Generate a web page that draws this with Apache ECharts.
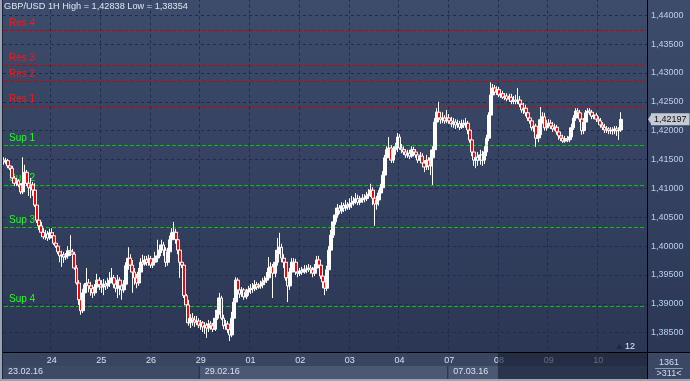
<!DOCTYPE html>
<html><head><meta charset="utf-8">
<script src="https://cdn.jsdelivr.net/npm/echarts@6/dist/echarts.min.js"></script>
<style>html,body{margin:0;padding:0;background:#2f3b58;}#c{width:690px;height:381px;}</style>
</head><body><div id="c"></div>
<script>
const symbolName = 'GBP/USD';
const timeframe = '1H';
const dayNames = ['23.02.16','24.02.16','25.02.16','26.02.16','29.02.16','01.03.16','02.03.16','03.03.16','04.03.16','07.03.16','08.03.16','09.03.16','10.03.16'];
const firstHour = 1;
const weekLabels = ['23.02.16','29.02.16','07.03.16'];
const shadeFromDay = '08.03.16';
const totalBars = '1361';
const visibleBarsText = '>311<';
const shiftText = '12';
const yMin = 1.38, yMax = 1.445, yStep = 0.005;
const resNames = ['Res 4','Res 3','Res 2','Res 1'];
const resValues = [1.43736,1.43130,1.42853,1.42419];
const supNames = ['Sup 1','Sup 2','Sup 3','Sup 4'];
const supValues = [1.41743,1.41050,1.40322,1.38953];

const opens = [1.4149,1.4146,1.4148,1.4139,1.4135,1.4118,1.4109,1.4113,1.4106,1.4094,
1.4109,1.4128,1.4109,1.4101,1.4106,1.4097,1.4071,1.4045,1.4035,1.4024,
1.4016,1.4021,1.4014,1.4023,1.4018,1.4005,1.4000,1.3990,1.3983,1.3985,
1.3981,1.3983,1.3992,1.3990,1.3986,1.3962,1.3936,1.3907,1.3888,1.3919,
1.3933,1.3936,1.3931,1.3926,1.3919,1.3929,1.3941,1.3933,1.3929,1.3934,
1.3931,1.3936,1.3941,1.3945,1.3934,1.3927,1.3941,1.3931,1.3924,1.3934,
1.3966,1.3979,1.3967,1.3955,1.3945,1.3936,1.3955,1.3972,1.3969,1.3976,
1.3972,1.3978,1.3967,1.3972,1.3979,1.3983,1.3993,1.4002,1.3993,1.3972,
1.3990,1.4011,1.4023,1.4024,1.4011,1.3993,1.3972,1.3967,1.3914,1.3898,
1.3867,1.3875,1.3872,1.3868,1.3870,1.3863,1.3867,1.3860,1.3863,1.3858,
1.3865,1.3862,1.3856,1.3875,1.3889,1.3910,1.3875,1.3862,1.3865,1.3855,
1.3846,1.3875,1.3903,1.3941,1.3924,1.3917,1.3924,1.3912,1.3920,1.3924,
1.3927,1.3926,1.3933,1.3929,1.3931,1.3933,1.3938,1.3941,1.3945,1.3962,
1.3964,1.3953,1.3972,1.3993,1.3998,1.3979,1.3972,1.3945,1.3931,1.3955,
1.3972,1.3972,1.3955,1.3953,1.3957,1.3955,1.3960,1.3959,1.3962,1.3959,
1.3953,1.3962,1.3976,1.3967,1.3948,1.3938,1.3927,1.3959,1.3993,1.4019,
1.4042,1.4054,1.4066,1.4061,1.4070,1.4066,1.4071,1.4068,1.4073,1.4075,
1.4078,1.4082,1.4076,1.4080,1.4083,1.4082,1.4087,1.4090,1.4097,1.4083,
1.4073,1.4080,1.4092,1.4101,1.4123,1.4153,1.4167,1.4170,1.4149,1.4167,
1.4172,1.4189,1.4170,1.4167,1.4163,1.4158,1.4161,1.4156,1.4167,1.4163,
1.4158,1.4149,1.4156,1.4144,1.4137,1.4149,1.4139,1.4153,1.4167,1.4215,
1.4232,1.4222,1.4219,1.4222,1.4217,1.4222,1.4217,1.4212,1.4215,1.4210,
1.4212,1.4206,1.4212,1.4210,1.4213,1.4201,1.4184,1.4163,1.4149,1.4154,
1.4149,1.4158,1.4149,1.4163,1.4187,1.4227,1.4262,1.4274,1.4267,1.4271,
1.4262,1.4264,1.4258,1.4260,1.4255,1.4258,1.4251,1.4253,1.4251,1.4253,
1.4246,1.4236,1.4239,1.4231,1.4222,1.4217,1.4205,1.4208,1.4187,1.4193,
1.4219,1.4224,1.4205,1.4212,1.4213,1.4208,1.4203,1.4206,1.4198,1.4191,
1.4187,1.4182,1.4186,1.4184,1.4189,1.4205,1.4222,1.4234,1.4231,1.4220,
1.4200,1.4215,1.4231,1.4234,1.4232,1.4225,1.4227,1.4220,1.4217,1.4210,
1.4206,1.4201,1.4203,1.4200,1.4201,1.4200,1.4203,1.4200,1.4201];

const closes = [1.4146,1.4148,1.4139,1.4135,1.4118,1.4109,1.4113,1.4106,1.4094,1.4109,
1.4128,1.4109,1.4101,1.4106,1.4097,1.4071,1.4045,1.4035,1.4024,1.4016,
1.4021,1.4014,1.4023,1.4018,1.4005,1.4000,1.3990,1.3983,1.3985,1.3981,
1.3983,1.3992,1.3990,1.3986,1.3962,1.3936,1.3907,1.3888,1.3919,1.3933,
1.3936,1.3931,1.3926,1.3919,1.3929,1.3941,1.3933,1.3929,1.3934,1.3931,
1.3936,1.3941,1.3945,1.3934,1.3927,1.3941,1.3931,1.3924,1.3934,1.3966,
1.3979,1.3967,1.3955,1.3945,1.3936,1.3955,1.3972,1.3969,1.3976,1.3972,
1.3978,1.3967,1.3972,1.3979,1.3983,1.3993,1.4002,1.3993,1.3972,1.3990,
1.4011,1.4023,1.4024,1.4011,1.3993,1.3972,1.3967,1.3914,1.3898,1.3867,
1.3875,1.3872,1.3868,1.3870,1.3863,1.3867,1.3860,1.3863,1.3858,1.3865,
1.3862,1.3856,1.3875,1.3889,1.3910,1.3875,1.3862,1.3865,1.3855,1.3846,
1.3875,1.3903,1.3941,1.3924,1.3917,1.3924,1.3912,1.3920,1.3924,1.3927,
1.3926,1.3933,1.3929,1.3931,1.3933,1.3938,1.3941,1.3945,1.3962,1.3964,
1.3953,1.3972,1.3993,1.3998,1.3979,1.3972,1.3945,1.3931,1.3955,1.3972,
1.3972,1.3955,1.3953,1.3957,1.3955,1.3960,1.3959,1.3962,1.3959,1.3953,
1.3962,1.3976,1.3967,1.3948,1.3938,1.3927,1.3959,1.3993,1.4019,1.4042,
1.4054,1.4066,1.4061,1.4070,1.4066,1.4071,1.4068,1.4073,1.4075,1.4078,
1.4082,1.4076,1.4080,1.4083,1.4082,1.4087,1.4090,1.4097,1.4083,1.4073,
1.4080,1.4092,1.4101,1.4123,1.4153,1.4167,1.4170,1.4149,1.4167,1.4172,
1.4189,1.4170,1.4167,1.4163,1.4158,1.4161,1.4156,1.4167,1.4163,1.4158,
1.4149,1.4156,1.4144,1.4137,1.4149,1.4139,1.4153,1.4167,1.4215,1.4232,
1.4222,1.4219,1.4222,1.4217,1.4222,1.4217,1.4212,1.4215,1.4210,1.4212,
1.4206,1.4212,1.4210,1.4213,1.4201,1.4184,1.4163,1.4149,1.4154,1.4149,
1.4158,1.4149,1.4163,1.4187,1.4227,1.4262,1.4274,1.4267,1.4271,1.4262,
1.4264,1.4258,1.4260,1.4255,1.4258,1.4251,1.4253,1.4251,1.4253,1.4246,
1.4236,1.4239,1.4231,1.4222,1.4217,1.4205,1.4208,1.4187,1.4193,1.4219,
1.4224,1.4205,1.4212,1.4213,1.4208,1.4203,1.4206,1.4198,1.4191,1.4187,
1.4182,1.4186,1.4184,1.4189,1.4205,1.4222,1.4234,1.4231,1.4220,1.4200,
1.4215,1.4231,1.4234,1.4232,1.4225,1.4227,1.4220,1.4217,1.4210,1.4206,
1.4201,1.4203,1.4200,1.4201,1.4200,1.4203,1.4200,1.4201,1.42197];

const highs = [1.4154,1.4153,1.4151,1.4142,1.4139,1.4122,1.4118,1.4116,1.4109,1.4154,
1.4141,1.4132,1.4115,1.4118,1.4111,1.4109,1.4089,1.4054,1.4042,1.4031,
1.4028,1.4026,1.4030,1.4031,1.4024,1.4011,1.4005,1.3993,1.3992,1.3990,
1.3988,1.4000,1.4019,1.3995,1.3990,1.3967,1.3941,1.3910,1.3926,1.3936,
1.3962,1.3943,1.3938,1.3933,1.3934,1.3952,1.3946,1.3941,1.3943,1.3940,
1.3945,1.3955,1.3962,1.3950,1.3941,1.3950,1.3946,1.3936,1.3941,1.3972,
1.3998,1.3986,1.3976,1.3962,1.3952,1.3962,1.3979,1.3985,1.3983,1.3983,
1.3985,1.3983,1.3979,1.3990,1.4011,1.4002,1.4011,1.4007,1.3998,1.3997,
1.4018,1.4031,1.4042,1.4030,1.4018,1.3998,1.3985,1.3971,1.3917,1.3907,
1.3882,1.3884,1.3879,1.3879,1.3875,1.3872,1.3870,1.3868,1.3867,1.3872,
1.3870,1.3867,1.3884,1.3898,1.3919,1.3914,1.3881,1.3872,1.3870,1.3860,
1.3886,1.3910,1.3946,1.3945,1.3931,1.3929,1.3927,1.3926,1.3931,1.3934,
1.3936,1.3941,1.3938,1.3936,1.3940,1.3945,1.3948,1.3955,1.3981,1.3972,
1.3969,1.3979,1.4014,1.4023,1.4004,1.3986,1.3979,1.3950,1.3962,1.3979,
1.3979,1.3978,1.3966,1.3962,1.3964,1.3967,1.3967,1.3969,1.3967,1.3964,
1.3969,1.3983,1.3983,1.3972,1.3953,1.3945,1.3966,1.4000,1.4028,1.4049,
1.4063,1.4073,1.4071,1.4076,1.4075,1.4080,1.4076,1.4083,1.4087,1.4085,
1.4092,1.4089,1.4087,1.4090,1.4090,1.4094,1.4099,1.4108,1.4102,1.4087,
1.4087,1.4097,1.4108,1.4130,1.4158,1.4173,1.4189,1.4175,1.4172,1.4179,
1.4196,1.4194,1.4177,1.4173,1.4168,1.4167,1.4167,1.4173,1.4172,1.4168,
1.4163,1.4163,1.4161,1.4149,1.4158,1.4154,1.4167,1.4173,1.4222,1.4239,
1.4250,1.4229,1.4232,1.4227,1.4236,1.4229,1.4224,1.4222,1.4220,1.4219,
1.4217,1.4219,1.4219,1.4222,1.4217,1.4206,1.4189,1.4167,1.4160,1.4163,
1.4167,1.4165,1.4173,1.4193,1.4232,1.42838,1.4281,1.4279,1.4277,1.4276,
1.4271,1.4269,1.4265,1.4265,1.4264,1.4264,1.4260,1.4262,1.4274,1.4260,
1.4253,1.4248,1.4245,1.4236,1.4229,1.4222,1.4215,1.4212,1.4201,1.4241,
1.4232,1.4231,1.4219,1.4220,1.4219,1.4215,1.4212,1.4210,1.4203,1.4196,
1.4193,1.4191,1.4191,1.4194,1.4212,1.4227,1.4239,1.4239,1.4236,1.4224,
1.4222,1.4236,1.4239,1.4239,1.4236,1.4232,1.4231,1.4225,1.4222,1.4215,
1.4212,1.4208,1.4206,1.4206,1.4206,1.4208,1.4208,1.4206,1.4232];

const lows = [1.4141,1.4142,1.4135,1.4132,1.4115,1.4104,1.4104,1.4102,1.4090,1.4090,
1.4106,1.4104,1.4087,1.4083,1.4087,1.4068,1.4040,1.4028,1.4021,1.4012,
1.4011,1.4009,1.4011,1.4014,1.4002,1.3997,1.3986,1.3972,1.3964,1.3971,
1.3976,1.3978,1.3983,1.3981,1.3959,1.3933,1.3898,1.3881,1.3884,1.3912,
1.3924,1.3920,1.3914,1.3910,1.3914,1.3922,1.3924,1.3919,1.3915,1.3924,
1.3926,1.3929,1.3936,1.3927,1.3920,1.3910,1.3915,1.3907,1.3919,1.3927,
1.3959,1.3955,1.3919,1.3933,1.3927,1.3931,1.3950,1.3962,1.3966,1.3966,
1.3966,1.3962,1.3962,1.3969,1.3972,1.3979,1.3988,1.3983,1.3964,1.3966,
1.3985,1.4004,1.4014,1.4004,1.3986,1.3945,1.3962,1.3910,1.3889,1.3862,
1.3858,1.3862,1.3860,1.3863,1.3858,1.3855,1.3851,1.3848,1.3841,1.3851,
1.3855,1.3851,1.3853,1.3872,1.3881,1.3872,1.3856,1.3855,1.3849,1.38354,
1.3842,1.3868,1.3898,1.3914,1.3910,1.3912,1.3907,1.3908,1.3914,1.3917,
1.3919,1.3922,1.3924,1.3926,1.3926,1.3927,1.3933,1.3936,1.3941,1.3955,
1.3910,1.3946,1.3966,1.3986,1.3972,1.3962,1.3940,1.3903,1.3924,1.3948,
1.3962,1.3950,1.3946,1.3948,1.3950,1.3952,1.3953,1.3955,1.3952,1.3946,
1.3948,1.3957,1.3962,1.3943,1.3927,1.3915,1.3922,1.3952,1.3986,1.4014,
1.4037,1.4049,1.4056,1.4056,1.4059,1.4061,1.4063,1.4063,1.4066,1.4070,
1.4073,1.4071,1.4071,1.4075,1.4076,1.4078,1.4082,1.4085,1.4071,1.4035,
1.4063,1.4070,1.4085,1.4094,1.4115,1.4146,1.4158,1.4144,1.4144,1.4158,
1.4163,1.4167,1.4161,1.4158,1.4153,1.4153,1.4151,1.4153,1.4156,1.4153,
1.4144,1.4146,1.4139,1.4128,1.4132,1.4132,1.4123,1.4106,1.4158,1.4208,
1.4217,1.4212,1.4213,1.4212,1.4213,1.4212,1.4206,1.4205,1.4203,1.4205,
1.4201,1.4203,1.4205,1.4205,1.4194,1.4179,1.4156,1.4139,1.4135,1.4139,
1.4141,1.4139,1.4142,1.4156,1.4182,1.4222,1.4257,1.4262,1.4262,1.4258,
1.4257,1.4255,1.4253,1.4251,1.4250,1.4246,1.4246,1.4246,1.4246,1.4241,
1.4231,1.4229,1.4225,1.4217,1.4212,1.4200,1.4198,1.4172,1.4180,1.4187,
1.4212,1.4200,1.4200,1.4206,1.4203,1.4198,1.4200,1.4193,1.4184,1.4182,
1.4179,1.4179,1.4180,1.4180,1.4184,1.4201,1.4217,1.4224,1.4215,1.4193,
1.4194,1.4210,1.4227,1.4227,1.4220,1.4220,1.4215,1.4212,1.4205,1.4201,
1.4196,1.4196,1.4194,1.4194,1.4193,1.4194,1.4191,1.4184,1.4198];

// ---------- build ----------
const FF = 'Liberation Sans, Arial, sans-serif';
const fmt5 = v => v.toFixed(5).replace('.', ',');
const cats = [];
dayNames.forEach((d, di) => {
  for (let h = (di === 0 ? firstHour : 0); h < 24; h++) cats.push(d + ' ' + String(h).padStart(2, '0') + ':00');
});
const dayOf = i => cats[i].slice(0, 8);
const isDayStart = i => cats[i].endsWith(' 00:00');
const isWeekStart = i => weekLabels.includes(dayOf(i)) && (i === 0 || dayOf(i - 1) !== dayOf(i));
const candles = opens.map((o, i) => [o, closes[i], lows[i], highs[i]]);
const hi = Math.max(...highs), lo = Math.min(...lows);
const lastClose = closes[closes.length - 1];

const PL = 3, PR = 43, PB = 352;
const band = (690 - PL - PR) / cats.length;
const xAt = i => PL + i * band;

const chart = echarts.init(document.getElementById('c'), null, {renderer: 'canvas', width: 690, height: 381});

// each support/resistance level: a dashed line across the whole range plus its name
function levelSeries(name, value, lineColor, textColor) {
  return {
    type: 'line', name, xAxisIndex: 0, yAxisIndex: 0, z: 2, silent: true, animation: false,
    symbol: 'none', showSymbol: false,
    lineStyle: {color: lineColor, width: 1, type: [4, 2]}, itemStyle: {color: lineColor},
    emphasis: {disabled: true},
    data: [[cats[0], value], [cats[cats.length - 1], value]],
    markLine: {
      symbol: 'none', silent: true, animation: false, precision: 5,
      lineStyle: {color: 'rgba(0,0,0,0)', width: 0},
      label: {show: true, position: 'insideStartTop', formatter: '{b}', color: textColor, fontSize: 10, fontFamily: FF, distance: [6, 2]},
      data: [{name, yAxis: value}]
    }
  };
}

const weekStarts = cats.map((c, i) => i).filter(isWeekStart);
const shadeIdx = cats.findIndex(c => c.startsWith(shadeFromDay));
const segColors = ['#3d4a66', '#4b5874', '#4b5874'];
const graphics = [
  {type: 'rect', shape: {x: 0, y: PB, width: 690, height: 29}, style: {fill: '#394662'}, z: 20, silent: true}
];
weekStarts.forEach((ws, k) => {
  const x0 = xAt(ws);
  const x1 = k + 1 < weekStarts.length ? xAt(weekStarts[k + 1]) : 690 - PR;
  graphics.push({type: 'rect', shape: {x: x0, y: 366, width: x1 - x0, height: 13}, style: {fill: segColors[k]}, z: 21, silent: true});
  if (k > 0) graphics.push({type: 'rect', shape: {x: x0 - 1, y: 366, width: 1, height: 13}, style: {fill: '#23304a'}, z: 22, silent: true});
});
graphics.push({type: 'rect', shape: {x: xAt(shadeIdx), y: PB + 1, width: 690 - PR - xAt(shadeIdx), height: 26}, style: {fill: 'rgba(22,30,50,0.62)'}, z: 40, silent: true});
// right-bottom box
graphics.push({type: 'rect', shape: {x: 690 - PR, y: PB, width: PR, height: 29}, style: {fill: '#3b4865'}, z: 41, silent: true});
graphics.push({type: 'rect', shape: {x: 690 - PR, y: PB, width: 1, height: 29}, style: {fill: '#000'}, z: 42, silent: true});
graphics.push({type: 'rect', shape: {x: 0, y: PB, width: 690, height: 1}, style: {fill: '#000'}, z: 42, silent: true});
graphics.push({type: 'text', x: 669, y: 363, style: {text: totalBars, fill: '#d0dcef', font: '9px ' + FF, align: 'center', verticalAlign: 'middle'}, z: 43, silent: true});
graphics.push({type: 'rect', shape: {x: 655, y: 368, width: 28, height: 1}, style: {fill: '#8f9bb3'}, z: 43, silent: true});
graphics.push({type: 'text', x: 669, y: 374, style: {text: visibleBarsText, fill: '#d0dcef', font: '9px ' + FF, align: 'center', verticalAlign: 'middle'}, z: 43, silent: true});
// shift marker
graphics.push({type: 'polygon', shape: {points: [[616, 349], [619.5, 344], [623, 349]]}, style: {fill: '#1f2944'}, z: 15, silent: true});
graphics.push({type: 'text', x: 625, y: 347, style: {text: shiftText, fill: '#e4ecf8', font: '9px ' + FF, align: 'left', verticalAlign: 'middle'}, z: 15, silent: true});
// borders
graphics.push({type: 'rect', shape: {x: 0, y: 0, width: 2, height: 381}, style: {fill: '#9aa3b4'}, z: 60, silent: true});
graphics.push({type: 'rect', shape: {x: 2, y: 0, width: 1, height: 381}, style: {fill: '#1b2438'}, z: 60, silent: true});
graphics.push({type: 'rect', shape: {x: 0, y: 379, width: 690, height: 2}, style: {fill: '#9aa3b4'}, z: 60, silent: true});

const option = {
  animation: false,
  backgroundColor: {type: 'linear', x: 0, y: 0, x2: 0, y2: 1, colorStops: [{offset: 0, color: '#3d4c6b'}, {offset: 1, color: '#2a3553'}]},
  title: {text: `${symbolName} ${timeframe} High = ${fmt5(hi)} Low = ${fmt5(lo)}`, left: 4, top: 2, padding: 0,
    textStyle: {color: '#dfe7f3', fontSize: 9.2, fontWeight: 'normal', fontFamily: FF}, z: 50},
  grid: [
    {left: PL, right: PR, top: -13.56, bottom: 19.5, containLabel: false, outerBoundsMode: 'none'},
    {left: PL, right: PR, top: 351, height: 1, containLabel: false, outerBoundsMode: 'none'},
    {left: PL, right: PR, top: 366, height: 1, containLabel: false, outerBoundsMode: 'none'}
  ],
  xAxis: [
    {type: 'category', gridIndex: 0, data: cats, boundaryGap: true, axisLine: {show: false}, axisTick: {show: false}, axisLabel: {show: false},
      splitLine: {show: true, interval: (i) => isDayStart(i), lineStyle: {color: '#1b2c4d', type: [3, 3], width: 1}}, z: 1},
    {type: 'category', gridIndex: 1, data: cats, boundaryGap: true, position: 'bottom', axisLine: {show: false}, axisTick: {show: false},
      axisLabel: {interval: (i) => isDayStart(i), formatter: v => v.slice(0, 2), color: '#d6e0f0', fontSize: 9, fontFamily: FF, margin: 4},
      splitLine: {show: false}, z: 30},
    {type: 'category', gridIndex: 2, data: cats, boundaryGap: true, position: 'bottom', axisLine: {show: false}, axisTick: {show: false},
      axisLabel: {interval: (i) => isWeekStart(i), formatter: v => v.slice(0, 8), align: 'left', padding: [0, 0, 0, 4], color: '#d6e0f0', fontSize: 9, fontFamily: FF, margin: 0},
      splitLine: {show: false}, z: 30}
  ],
  yAxis: [
    {type: 'value', gridIndex: 0, position: 'right', min: yMin, max: yMax, interval: yStep, scale: true,
      axisLine: {show: true, lineStyle: {color: '#000', width: 1}}, axisTick: {show: false},
      axisLabel: {formatter: v => fmt5(v), color: '#b9cff0', fontSize: 9, fontFamily: FF, margin: 4},
      splitLine: {show: true, lineStyle: {color: '#1b2c4d', type: [3, 3], width: 1}}, z: 3},
    {type: 'value', gridIndex: 1, show: false},
    {type: 'value', gridIndex: 2, show: false}
  ],
  series: resNames.map((n, i) => levelSeries(n, resValues[i], '#d40000', '#ff1414'))
    .concat(supNames.map((n, i) => levelSeries(n, supValues[i], '#00c800', '#1cff1c')))
    .concat([{
      type: 'candlestick', xAxisIndex: 0, yAxisIndex: 0, data: candles, barWidth: 3.4, z: 5,
      itemStyle: {color: '#ffffff', color0: '#ff0000', borderColor: '#ffffff', borderColor0: '#ffffff', borderWidth: 1},
      markLine: {
        symbol: 'none', silent: true, animation: false, precision: 5,
        lineStyle: {color: 'rgba(0,0,0,0)', width: 0},
        data: [{name: 'last', yAxis: lastClose,
          label: {show: true, position: 'end', formatter: fmt5(lastClose), color: '#101010', backgroundColor: '#c5cad3', padding: [2, 3, 1, 3], fontSize: 9, fontFamily: FF, distance: 4}}]
      }
    }]),
  graphic: graphics
};
chart.setOption(option);
// arrow of the last-price tag
const ly = chart.convertToPixel({yAxisIndex: 0}, lastClose);
chart.setOption({graphic: graphics.concat([{type: 'polygon', shape: {points: [[648, ly], [652, ly - 6], [652, ly + 6]]}, style: {fill: '#c5cad3'}, z: 45, silent: true}])});
</script></body></html>
